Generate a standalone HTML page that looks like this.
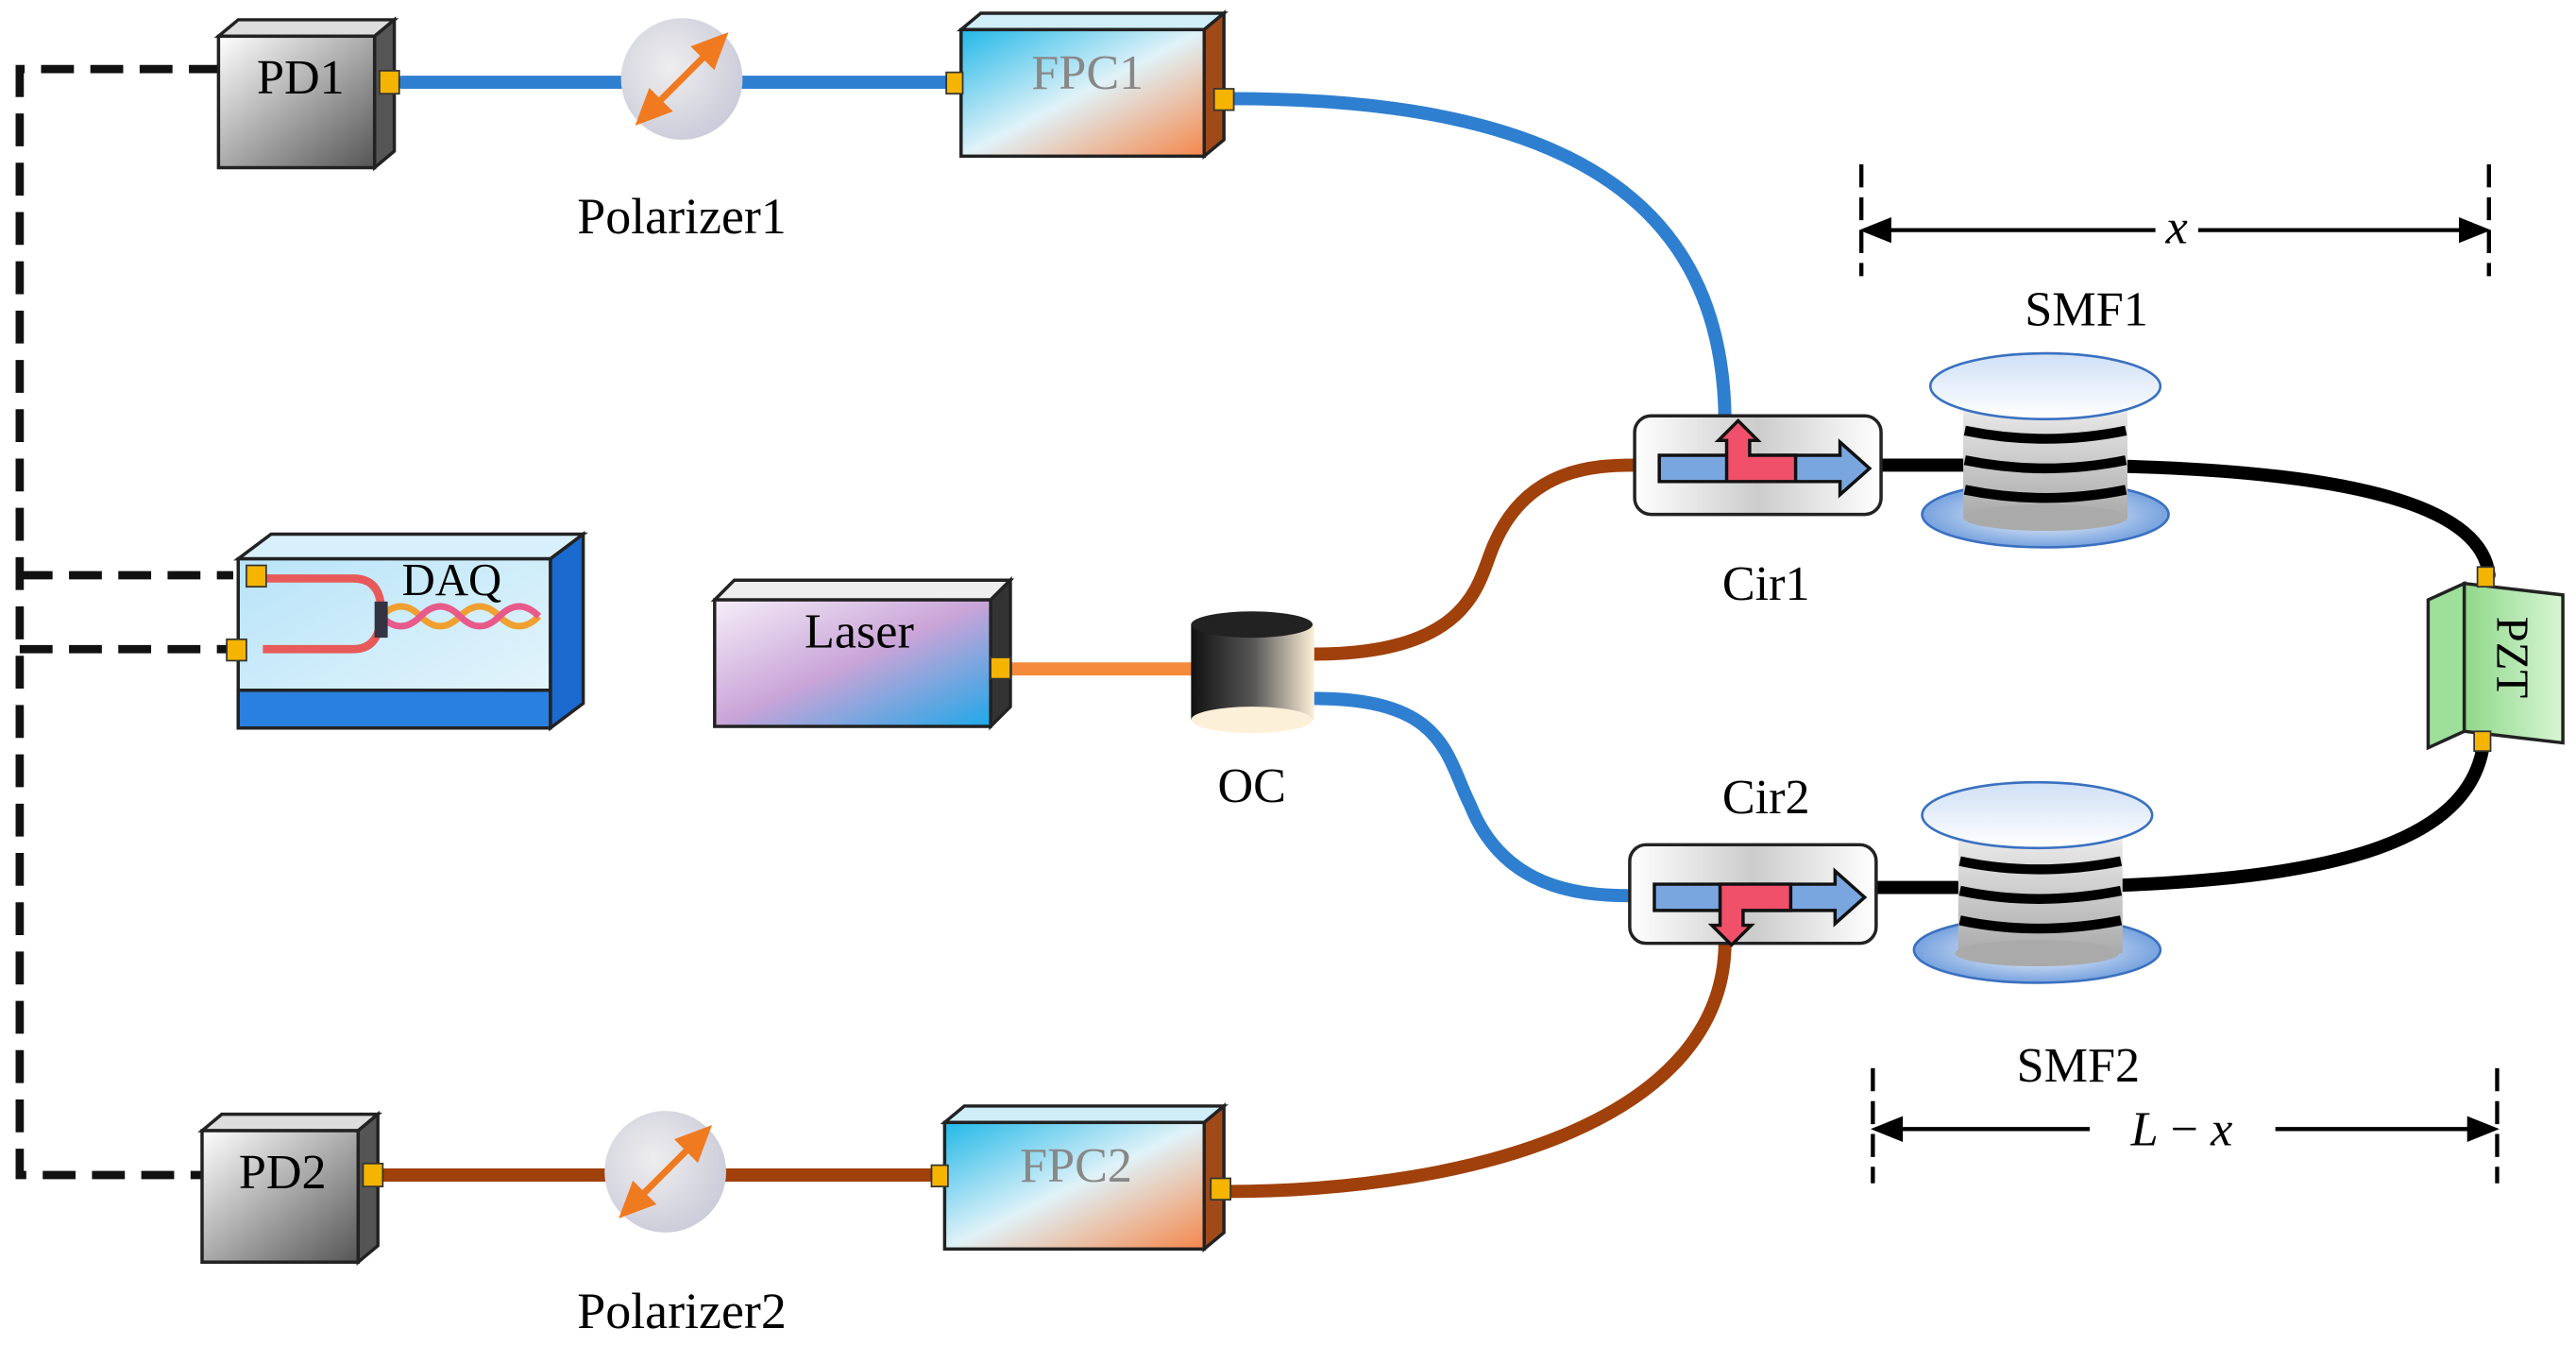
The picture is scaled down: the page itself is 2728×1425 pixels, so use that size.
<!DOCTYPE html>
<html><head><style>html,body{margin:0;padding:0;background:#fff}svg{display:block}svg text{font-family:"Liberation Serif","DejaVu Serif",serif}</style></head>
<body>
<svg width="2728" height="1425" viewBox="0 0 1568 819" xmlns="http://www.w3.org/2000/svg" style="font-family:'Liberation Serif',serif">
<defs>
<linearGradient id="gray" x1="0" y1="0" x2="1" y2="1"><stop offset="0" stop-color="#fff"/><stop offset="1" stop-color="#555"/></linearGradient>
<linearGradient id="fpc" x1="0" y1="0" x2="1" y2="1"><stop offset="0" stop-color="#22b8e8"/><stop offset="0.5" stop-color="#e0f2f8"/><stop offset="1" stop-color="#f5874a"/></linearGradient>
<linearGradient id="laser" x1="0" y1="0" x2="1" y2="1"><stop offset="0" stop-color="#f5eef8"/><stop offset="0.5" stop-color="#c9a4d8"/><stop offset="1" stop-color="#1ea8e8"/></linearGradient>
<linearGradient id="oc" x1="0" y1="0" x2="1" y2="0"><stop offset="0" stop-color="#111"/><stop offset="0.5" stop-color="#555"/><stop offset="1" stop-color="#fdf0d8"/></linearGradient>
<linearGradient id="daq" x1="0" y1="0" x2="1" y2="1"><stop offset="0" stop-color="#b8e4f8"/><stop offset="1" stop-color="#e8f6fc"/></linearGradient>
<linearGradient id="cir" x1="0" y1="0" x2="1" y2="0"><stop offset="0" stop-color="#fff"/><stop offset="0.5" stop-color="#ccc"/><stop offset="1" stop-color="#fff"/></linearGradient>
<linearGradient id="disk" x1="0" y1="0" x2="0" y2="1"><stop offset="0" stop-color="#cfe0f6"/><stop offset="1" stop-color="#fff"/></linearGradient>
<radialGradient id="disk2" cx="0.5" cy="0.5" r="0.6"><stop offset="0" stop-color="#fff"/><stop offset="1" stop-color="#5b8fd8"/></radialGradient>
<linearGradient id="spool" x1="0" y1="0" x2="0" y2="1"><stop offset="0" stop-color="#f4f4f4"/><stop offset="1" stop-color="#aaa"/></linearGradient>
<linearGradient id="pzt" x1="0" y1="0" x2="1" y2="0"><stop offset="0" stop-color="#8fd88a"/><stop offset="1" stop-color="#d8f5d4"/></linearGradient>
<radialGradient id="pol" cx="0.4" cy="0.4" r="0.7"><stop offset="0" stop-color="#eee"/><stop offset="1" stop-color="#c8c8d8"/></radialGradient>
</defs>

<g stroke="#111" stroke-width="5" fill="none" stroke-dasharray="20 10">
<path d="M135 42 H12 V715 H125"/>
<path d="M12 350 H142"/>
<path d="M12 395 H142"/>
</g>

<g fill="none" stroke-linecap="round">
<path d="M245 50 H580" stroke="#2f7fd0" stroke-width="8"/>
<path d="M750 60 C950 60 1050 120 1050 258" stroke="#2f7fd0" stroke-width="8"/>
<path d="M800 398 C900 398 900 350 910 330 C930 285 970 283 995 283" stroke="#a0400a" stroke-width="8"/>
<path d="M800 425 C880 425 880 460 895 490 C915 540 960 545 992 545" stroke="#2f7fd0" stroke-width="8"/>
<path d="M1050 573 C1050 680 900 725 745 725" stroke="#a0400a" stroke-width="8"/>
<path d="M230 715 H575" stroke="#a0400a" stroke-width="8"/>
<path d="M615 407 H730" stroke="#f58a3a" stroke-width="8"/>
<path d="M1145 283 H1240 C1400 283 1510 300 1515 350" stroke="#000" stroke-width="8"/>
<path d="M1512 450 C1505 520 1400 538 1240 540 H1142" stroke="#000" stroke-width="8"/>
</g>

<g stroke="#222" stroke-width="2">
<polygon points="133,22 145,12 240,12 228,22" fill="#ddd"/>
<polygon points="228,22 240,12 240,92 228,102" fill="#555"/>
<rect x="133" y="22" width="95" height="80" fill="url(#gray)"/>
<polygon points="123,688 135,678 230,678 218,688" fill="#ddd"/>
<polygon points="218,688 230,678 230,758 218,768" fill="#555"/>
<rect x="123" y="688" width="95" height="80" fill="url(#gray)"/>
</g>
<rect x="231" y="43" width="12" height="14" fill="#f4b400" stroke="#333"/>
<rect x="221" y="708" width="12" height="14" fill="#f4b400" stroke="#333"/>
<text x="183" y="57" font-size="30" text-anchor="middle">PD1</text>
<text x="172" y="723" font-size="30" text-anchor="middle">PD2</text>

<circle cx="415" cy="48" r="37" fill="url(#pol)"/>
<circle cx="405" cy="713" r="37" fill="url(#pol)"/>
<g stroke="#f07a20" stroke-width="4" fill="#f07a20">
<line x1="397" y1="66" x2="433" y2="30"/><polygon points="440,23 424,29 434,39"/><polygon points="390,73 406,67 396,57"/>
<line x1="387" y1="731" x2="423" y2="695"/><polygon points="430,688 414,694 424,704"/><polygon points="380,738 396,732 386,722"/>
</g>
<text x="415" y="142" font-size="31" text-anchor="middle">Polarizer1</text>
<text x="415" y="808" font-size="31" text-anchor="middle">Polarizer2</text>

<g stroke="#222" stroke-width="2">
<polygon points="585,18 597,8 745,8 733,18" fill="#cfeef8"/>
<polygon points="733,18 745,8 745,85 733,95" fill="#a04a1a"/>
<rect x="585" y="18" width="148" height="77" fill="url(#fpc)"/>
<polygon points="575,683 587,673 745,673 733,683" fill="#cfeef8"/>
<polygon points="733,683 745,673 745,750 733,760" fill="#a04a1a"/>
<rect x="575" y="683" width="158" height="77" fill="url(#fpc)"/>
</g>
<rect x="576" y="44" width="10" height="13" fill="#f4b400" stroke="#333"/>
<rect x="739" y="54" width="12" height="13" fill="#f4b400" stroke="#333"/>
<rect x="567" y="709" width="10" height="13" fill="#f4b400" stroke="#333"/>
<rect x="737" y="717" width="12" height="13" fill="#f4b400" stroke="#333"/>
<text x="662" y="54" font-size="30" text-anchor="middle" fill="#888">FPC1</text>
<text x="655" y="719" font-size="30" text-anchor="middle" fill="#888">FPC2</text>

<g stroke="#222" stroke-width="2">
<polygon points="435,365 447,353 615,353 603,365" fill="#eee"/>
<polygon points="603,365 615,353 615,430 603,442" fill="#333"/>
<rect x="435" y="365" width="168" height="77" fill="url(#laser)"/>
</g>
<rect x="603" y="400" width="12" height="13" fill="#f4b400" stroke="#333"/>
<text x="523" y="394" font-size="30" text-anchor="middle">Laser</text>

<rect x="725" y="380" width="75" height="58" fill="url(#oc)"/>
<ellipse cx="762" cy="380" rx="37" ry="8" fill="#222"/>
<ellipse cx="762" cy="438" rx="37" ry="8" fill="#fdf0d8"/>
<text x="762" y="488" font-size="30" text-anchor="middle">OC</text>

<g stroke="#222" stroke-width="2">
<polygon points="145,340 165,325 355,325 335,340" fill="#d8f0fb"/>
<polygon points="335,340 355,325 355,428 335,443" fill="#1a6ad0"/>
<polygon points="145,340 335,340 335,443 145,443" fill="url(#daq)"/>
<polygon points="145,420 335,420 335,443 145,443" fill="#2a80e0"/>
</g>
<path d="M160 352 H215 Q232 352 232 372 Q232 395 215 395 H160" fill="none" stroke="#e85a5a" stroke-width="5"/>
<path d="M232 375 q12 -12 24 0 q12 12 24 0 q12 -12 24 0 q12 12 24 0" fill="none" stroke="#f0a030" stroke-width="4"/>
<path d="M232 375 q12 12 24 0 q12 -12 24 0 q12 12 24 0 q12 -12 24 0" fill="none" stroke="#e85a8a" stroke-width="4"/>
<rect x="228" y="366" width="8" height="22" fill="#334"/>
<rect x="150" y="344" width="12" height="13" fill="#f4b400" stroke="#333"/>
<rect x="138" y="389" width="12" height="13" fill="#f4b400" stroke="#333"/>
<text x="275" y="362" font-size="28" text-anchor="middle">DAQ</text>

<rect x="995" y="253" width="150" height="60" rx="10" fill="url(#cir)" stroke="#222" stroke-width="2"/>
<rect x="992" y="514" width="150" height="60" rx="10" fill="url(#cir)" stroke="#222" stroke-width="2"/>
<g stroke="#111" stroke-width="2">
<polygon points="1010,277 1120,277 1120,269 1138,285 1120,301 1120,293 1010,293" fill="#7aa6e0"/>
<path d="M1051 293 V268 H1046 L1058 256 L1070 268 H1065 V277 H1093 V293 Z" fill="#f0506a"/>
<polygon points="1007,538 1117,538 1117,530 1135,546 1117,562 1117,554 1007,554" fill="#7aa6e0"/>
<path d="M1047 538 V563 H1042 L1054 575 L1066 563 H1061 V554 H1090 V538 Z" fill="#f0506a"/>
</g>
<text x="1075" y="365" font-size="30" text-anchor="middle">Cir1</text>
<text x="1075" y="495" font-size="30" text-anchor="middle">Cir2</text>

<g>
<ellipse cx="1245" cy="313" rx="75" ry="20" fill="url(#disk2)" stroke="#3a70c0" stroke-width="1.5"/>
<rect x="1195" y="237" width="100" height="78" fill="url(#spool)"/>
<ellipse cx="1245" cy="315" rx="50" ry="8" fill="#aaa"/>
<g stroke="#000" stroke-width="6" fill="none"><path d="M1196 262 Q1245 272 1294 262"/><path d="M1196 280 Q1245 290 1294 280"/><path d="M1196 298 Q1245 308 1294 298"/></g>
<ellipse cx="1245" cy="235" rx="70" ry="20" fill="url(#disk)" stroke="#3a70c0" stroke-width="1.5"/>

<ellipse cx="1240" cy="578" rx="75" ry="20" fill="url(#disk2)" stroke="#3a70c0" stroke-width="1.5"/>
<rect x="1192" y="500" width="100" height="80" fill="url(#spool)"/>
<ellipse cx="1240" cy="580" rx="50" ry="8" fill="#aaa"/>
<g stroke="#000" stroke-width="6" fill="none"><path d="M1193 524 Q1240 534 1291 524"/><path d="M1193 542 Q1240 552 1291 542"/><path d="M1193 560 Q1240 570 1291 560"/></g>
<ellipse cx="1240" cy="496" rx="70" ry="20" fill="url(#disk)" stroke="#3a70c0" stroke-width="1.5"/>
</g>
<text x="1270" y="198" font-size="30" text-anchor="middle">SMF1</text>
<text x="1265" y="658" font-size="30" text-anchor="middle">SMF2</text>

<g stroke="#222" stroke-width="2">
<polygon points="1478,365 1500,355 1500,445 1478,455" fill="#9ee09a"/>
<polygon points="1500,355 1560,362 1560,452 1500,445" fill="url(#pzt)"/>
</g>
<rect x="1508" y="345" width="10" height="12" fill="#f4b400" stroke="#333"/>
<rect x="1506" y="445" width="10" height="12" fill="#f4b400" stroke="#333"/>
<text x="0" y="0" font-size="28" text-anchor="middle" transform="translate(1520,400) rotate(90)">PZT</text>

<g stroke="#000" stroke-width="2.5" fill="#000">
<line x1="1133" y1="100" x2="1133" y2="168" stroke-dasharray="14 6"/>
<line x1="1515" y1="100" x2="1515" y2="168" stroke-dasharray="14 6"/>
<line x1="1140" y1="140" x2="1312" y2="140"/><line x1="1338" y1="140" x2="1508" y2="140"/>
<polygon points="1135,140 1150,134 1150,146"/><polygon points="1513,140 1498,134 1498,146"/>
<line x1="1140" y1="650" x2="1140" y2="720" stroke-dasharray="14 6"/>
<line x1="1520" y1="650" x2="1520" y2="720" stroke-dasharray="14 6"/>
<line x1="1145" y1="687" x2="1272" y2="687"/><line x1="1385" y1="687" x2="1515" y2="687"/>
<polygon points="1142,687 1157,681 1157,693"/><polygon points="1518,687 1503,681 1503,693"/>
</g>
<text x="1325" y="148" font-size="30" font-style="italic" text-anchor="middle">x</text>
<text x="1328" y="697" font-size="30" text-anchor="middle"><tspan font-style="italic">L</tspan> − <tspan font-style="italic">x</tspan></text>
</svg>
</body></html>
